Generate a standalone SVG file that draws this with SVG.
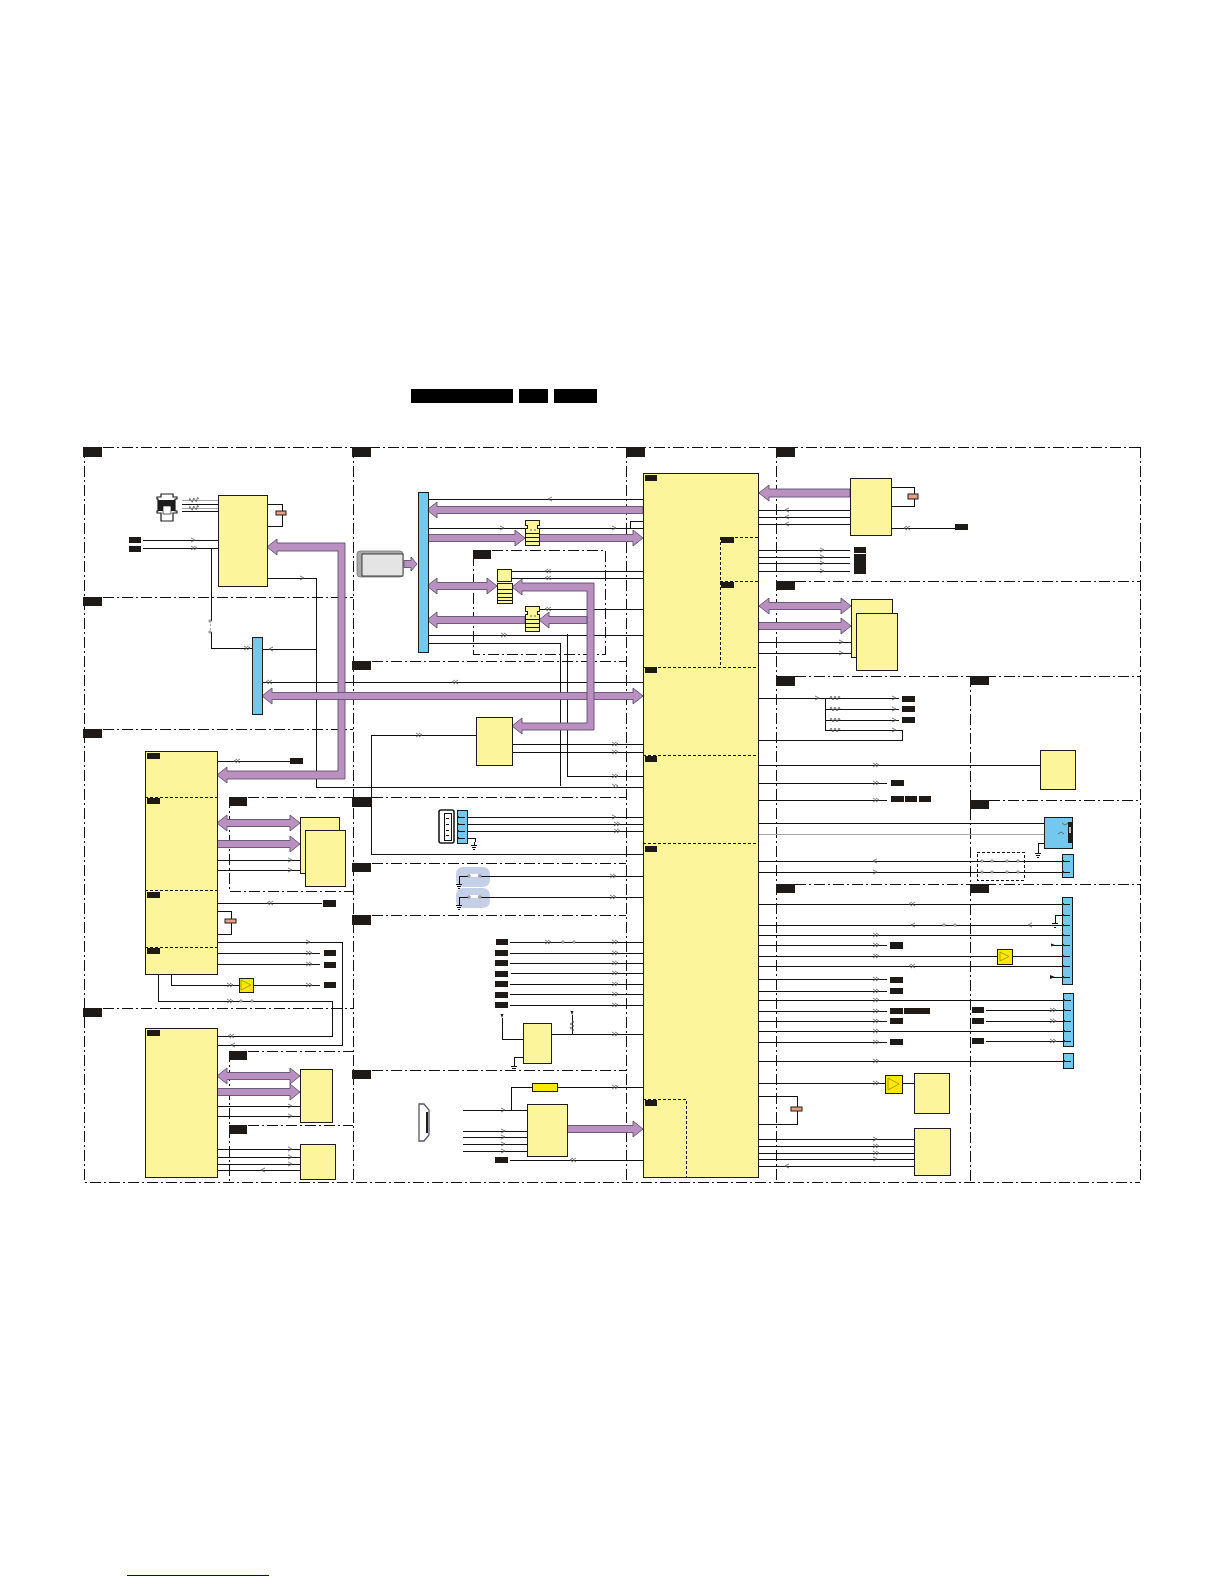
<svg xmlns="http://www.w3.org/2000/svg" width="1224" height="1584" viewBox="0 0 1224 1584">
<style>
.f{fill:none;stroke:#111;stroke-width:1;stroke-dasharray:11 3 2 3;shape-rendering:crispEdges}
.l{fill:none;stroke:#111;stroke-width:1;shape-rendering:crispEdges}
.g{fill:none;stroke:#a8a8a8;stroke-width:1;shape-rendering:crispEdges}
.b{fill:#fdf59c;stroke:#1c1c1c;stroke-width:1;shape-rendering:crispEdges}
.c{fill:#72c8ee;stroke:#1c1c1c;stroke-width:1;shape-rendering:crispEdges}
.t{fill:#1e1a18}
.a{fill:#ba90c0;stroke:#5e5070;stroke-width:.9}
.d{fill:none;stroke:#111;stroke-width:1;stroke-dasharray:3 2;shape-rendering:crispEdges}
.y{fill:#ffe800;stroke:#1c1c1c;stroke-width:1;shape-rendering:crispEdges}
.ch{fill:none;stroke:#555;stroke-width:.8}
.cp{fill:#e8a080;stroke:#1c1c1c;stroke-width:1}
.dot{fill:#ddd;stroke:#666;stroke-width:.7}
</style>
<defs>
<path id="r1" class="ch" d="M-2-2L2 0L-2 2"/>
<path id="l1" class="ch" d="M2-2L-2 0L2 2"/>
<path id="r2" class="ch" d="M-3-2L0 0L-3 2M0-2L3 0L0 2"/>
<path id="l2" class="ch" d="M3-2L0 0L3 2M0-2L-3 0L0 2"/>
<g id="gnd"><path class="l" d="M0 0V3M-3 3H3M-2 5H2M-1 7H1"/></g>
<path id="res" class="ch" d="M-5 0L-4-2L-2 2L0-2L2 2L4-2L5 0"/>
<g id="ic"><path class="b" d="M0 0H14V5H12V8H14V25H0V8H2V5H0Z"/><path class="l" d="M0 13H14M0 17H14M0 21H14"/><circle cx="6" cy="10" r=".7" fill="#333"/><circle cx="10" cy="10" r=".7" fill="#333"/></g>
<g id="pin"><path class="l" d="M-3 0H3"/><path d="M-3-1.2L-5 0L-3 1.2Z" fill="#1c1c1c"/></g>
</defs>
<g id="title"><rect x="411" y="389" width="102" height="14" fill="#000"/><rect x="519" y="389" width="29" height="14" fill="#000"/><rect x="554" y="389" width="43" height="14" fill="#000"/></g>
<path id="footer-link" d="M127 1575H269" stroke="#0000a0" stroke-width="1" fill="none" shape-rendering="crispEdges"/>
<g id="frames">
<path class="f" d="M84 447H1140M84 447V1182H1140M1140 447V1182"/>
<path class="f" d="M353 447V1182M626 447V1182M776 447V1182M970 676V1182"/>
<path class="f" d="M84 597H353M84 729H353M84 1008H353"/>
<path class="f" d="M353 661H626M353 797H626M353 863H626M353 915H626M353 1070H626"/>
<path class="f" d="M776 581H1140M776 676H1140M970 800H1140M776 884H1140"/>
<path class="f" d="M229 797V891H353M229 797H353M229 1051V1182M229 1051H353M229 1125H353"/>
<path class="f" d="M473 550H605V654H473Z"/>
</g>
<g id="connectors">
<path class="l" d="M143 540H218M143 548H218M211 548V621M211 632V648H252"/>
<path class="g" d="M210 624V630" stroke-dasharray="2 2"/>
<path class="l" d="M267 504H282V511M282 515V526H267"/>
<path class="l" d="M182 504H218M182 511H218"/>
<path class="g" d="M182 500H218M182 508H218"/>
<path class="l" d="M267 578H316V787H643M262 649H316"/>
<path class="l" d="M428 499H643M428 528H643M630 528V521H643M512 571H643M512 578H643M539 609H643M428 635H643M428 643H560V786M567 634V776H643M262 682H643M512 744H643M512 752H643M476 735H371V854H643"/>
<path class="l" d="M460 817H643M460 824H643M460 831H643M460 838H475V842M480 876H643M480 897H643"/>
<path class="l" d="M510 942H643M510 953H643M510 963H643M511 973H643M510 984H643M510 994H643M510 1005H643M551 1034H643M572 1015V1034M502 1018V1039H523M523 1057H514V1063M557 1087H643M532 1087H511V1110M463 1110H527M463 1131H527M463 1137H527M463 1144H527M463 1151H527M510 1160H643"/>
<path class="l" d="M217 761H290M217 860H300M217 870H300M217 903H322M217 911H231V919M231 923V934H217M217 942H342V1045H217M217 953H320M217 964H320M171 974V985H239M253 985H320M158 974V1001H332V1036H217M217 1106H300M217 1116H300M217 1149H300M217 1157H300M217 1164H300M217 1170H300"/>
<path class="l" d="M891 487H914V494M914 499V506H891M891 528H955M758 510H850M758 517H850M758 524H850M758 550H850M758 557H850M758 563H850M758 571H850M758 642H851M758 653H851M758 698H899M825 698V730M825 709H899M825 720H899M825 730H902V740H758M758 765H1040M758 783H887M758 800H887"/>
<path class="l" d="M758 823H1044M758 861H1062M758 872H1062M1068 843H1038V850"/>
<path class="g" d="M758 834H1044"/>
<path class="l" d="M758 904H1062M1062 915H1055V920M758 925H1062M758 935H1062M758 945H887M1053 945H1062M758 956H997M1012 956H1062M758 966H1062M758 979H887M1050 977H1062M758 991H887M758 1000H1063M758 1011H887M758 1021H887M758 1031H1063M758 1042H887M986 1010H1063M986 1021H1063M986 1041H1063M758 1061H1063M758 1083H885M902 1083H914M758 1096H797V1107M797 1111V1124H758M758 1139H914M758 1146H914M758 1153H914M758 1159H914M758 1166H914"/>
<path id="bus-1" class="a" d="M267 547L277 539V543H345V779H227V783L217 775L227 767V771H338V551H277V555Z"/>
<path id="bus-2" class="a" d="M262 696L272 688V692.5H633V688L643 696L633 704V699.500H272V704Z"/>
<path class="a" d="M427 510L437 502V506.500H643V513.500H437V518Z"/>
<path class="a" d="M427 534.500H515V530L525 538L515 546V541.500H427Z"/>
<path class="a" d="M539 534.500H633V530L643 538L633 546V541.500H539Z"/>
<path class="a" d="M427 586L437 578V582.500H487V578L497 586L487 594V589.500H437V594Z"/>
<path class="a" d="M512 587L522 579V583H594V730H522V734L512 726L522 718V723H587V591H522V595Z"/>
<path class="a" d="M539 620L549 612V616.500H587V623.500H549V628Z"/>
<path class="a" d="M427 620L437 612V616.500H525V623.500H437V628Z"/>
<path class="a" d="M404 560.500H411V557L417 564L411 571V567.500H404Z"/>
<path class="a" d="M217 823L227 815V819.500H290V815L300 823L290 831V826.500H227V831Z"/>
<path class="a" d="M217 840.500H290V836L300 844L290 852V847.500H217Z"/>
<path class="a" d="M217 1076L227 1068V1072.500H290V1068L300 1076L290 1084V1079.500H227V1084Z"/>
<path class="a" d="M217 1088.500H290V1084L300 1092L290 1100V1095.500H217Z"/>
<path class="a" d="M567 1125.500H633V1121L643 1129L633 1137V1132.500H567Z"/>
<path class="a" d="M759 493L769 485V489H850V497H769V501Z"/>
<path class="a" d="M759 606L769 598V602.500H841V598L851 606L841 614V609.500H769V614Z"/>
<path class="a" d="M758 622.500H841V618L851 626L841 634V629.500H758Z"/>
<use href="#res" transform="translate(194 500) rotate(-8)"/><use href="#res" transform="translate(194 508) rotate(-8)"/>
<use href="#r1" x="193" y="540"/><use href="#r2" x="194" y="548"/><use href="#r2" x="247" y="648"/><use href="#l1" x="271" y="649"/><use href="#l2" x="269" y="682"/><use href="#r1" x="302" y="578"/>
<use href="#l2" x="237" y="761"/><use href="#r1" x="290" y="860"/><use href="#r1" x="290" y="870"/><use href="#l2" x="270" y="903"/><use href="#r1" x="308" y="942"/><use href="#r2" x="309" y="953"/><use href="#r2" x="309" y="964"/><use href="#r2" x="230" y="985"/><use href="#r2" x="309" y="985"/><use href="#r2" x="230" y="1001"/><use href="#l2" x="231" y="1036"/><use href="#l1" x="233" y="1045"/><use href="#r1" x="290" y="1106"/><use href="#r1" x="290" y="1116"/><use href="#r1" x="290" y="1149"/><use href="#r1" x="290" y="1157"/><use href="#r1" x="290" y="1164"/><use href="#l1" x="263" y="1170"/>
<use href="#l1" x="550" y="499"/><use href="#r1" x="502" y="528"/><use href="#r1" x="614" y="528"/><use href="#l2" x="548" y="571"/><use href="#l2" x="548" y="578"/><use href="#l2" x="548" y="609"/><use href="#r2" x="504" y="635"/><use href="#l2" x="455" y="682"/><use href="#r2" x="419" y="735"/><use href="#r2" x="615" y="744"/><use href="#r2" x="615" y="752"/><use href="#r2" x="615" y="776"/><use href="#r2" x="615" y="786"/>
<use href="#r1" x="614" y="817"/><use href="#r2" x="617" y="824"/><use href="#r2" x="617" y="831"/><use href="#r2" x="613" y="876"/><use href="#r2" x="613" y="897"/>
<use href="#r2" x="548" y="942"/><use href="#r2" x="615" y="942"/><use href="#r2" x="615" y="953"/><use href="#r2" x="615" y="963"/><use href="#r2" x="615" y="973"/><use href="#r2" x="615" y="984"/><use href="#r2" x="615" y="994"/><use href="#r2" x="615" y="1005"/><use href="#r2" x="615" y="1034"/><use href="#r2" x="615" y="1087"/><use href="#r1" x="503" y="1110"/><use href="#r1" x="503" y="1131"/><use href="#r1" x="503" y="1137"/><use href="#r1" x="503" y="1144"/><use href="#r1" x="503" y="1151"/><use href="#l2" x="573" y="1160"/>
<use href="#l2" x="907" y="528"/><use href="#l1" x="787" y="510"/><use href="#l1" x="787" y="517"/><use href="#l1" x="787" y="524"/><use href="#r1" x="822" y="550"/><use href="#r1" x="822" y="557"/><use href="#r1" x="822" y="563"/><use href="#r1" x="822" y="571"/><use href="#r1" x="841" y="642"/><use href="#r1" x="841" y="653"/>
<use href="#r1" x="817" y="698"/><use href="#res" x="835" y="698"/><use href="#res" x="835" y="709"/><use href="#res" x="835" y="720"/><use href="#res" x="835" y="730"/><use href="#r1" x="894" y="698"/><use href="#r1" x="894" y="709"/><use href="#r1" x="894" y="720"/><use href="#r1" x="894" y="730"/>
<use href="#r2" x="876" y="765"/><use href="#r2" x="876" y="783"/><use href="#r2" x="876" y="800"/>
<use href="#l1" x="875" y="861"/><use href="#r1" x="875" y="872"/><use href="#l2" x="912" y="904"/><use href="#l1" x="913" y="925"/><use href="#l1" x="1030" y="925"/><use href="#r2" x="876" y="935"/><use href="#r2" x="876" y="945"/><use href="#r2" x="876" y="956"/><use href="#l2" x="912" y="966"/><use href="#r2" x="876" y="979"/><use href="#r2" x="876" y="991"/><use href="#r2" x="876" y="1000"/><use href="#r2" x="876" y="1011"/><use href="#r2" x="876" y="1021"/><use href="#r2" x="876" y="1031"/><use href="#r2" x="876" y="1042"/><use href="#r2" x="1053" y="1010"/><use href="#r2" x="1053" y="1021"/><use href="#r2" x="1053" y="1041"/><use href="#r2" x="876" y="1061"/><use href="#r2" x="876" y="1083"/><use href="#r1" x="875" y="1139"/><use href="#r2" x="876" y="1146"/><use href="#r2" x="876" y="1153"/><use href="#r1" x="875" y="1159"/><use href="#l1" x="787" y="1166"/>
<circle class="dot" cx="241" cy="1001" r="1.2"/><circle class="dot" cx="252" cy="1001" r="1.2"/>
<circle class="dot" cx="563" cy="942" r="1.2"/><circle class="dot" cx="574" cy="942" r="1.2"/>
<circle class="dot" cx="944" cy="925" r="1.2"/><circle class="dot" cx="955" cy="925" r="1.2"/>
<circle class="dot" cx="210" cy="621" r="1.2"/><circle class="dot" cx="210" cy="632" r="1.2"/>
<circle class="dot" cx="982" cy="861" r="1.2"/><circle class="dot" cx="992" cy="861" r="1.2"/><circle class="dot" cx="1007" cy="861" r="1.2"/><circle class="dot" cx="1018" cy="861" r="1.2"/>
<circle class="dot" cx="982" cy="872" r="1.2"/><circle class="dot" cx="992" cy="872" r="1.2"/><circle class="dot" cx="1007" cy="872" r="1.2"/><circle class="dot" cx="1018" cy="872" r="1.2"/>
<path d="M572 1015l-1.500-4h3z" fill="#1c1c1c"/><use href="#res" transform="translate(572 1026) rotate(90)"/>
<path d="M502 1018l-1.500-4h3z" fill="#1c1c1c"/>
<use href="#gnd" x="474" y="842"/><use href="#gnd" x="514" y="1063"/><use href="#gnd" x="1038" y="850"/><use href="#gnd" x="1055" y="920"/>
</g>
<g id="node-power-conn"><path fill="#fff" stroke="#1c1c1c" stroke-width="1.2" d="M161 494H173V497H177V499H175V511H177V513H173V521H161V513H157V511H158V499H157V497H161Z"/><rect x="158" y="500" width="17" height="11" fill="#1c1c1c"/><rect x="163" y="506" width="8" height="8" fill="#fff" stroke="#1c1c1c" stroke-width=".7"/></g>
<g id="node-a"><rect class="b" x="218" y="495" width="49" height="91"/><rect class="cp" x="276" y="511" width="10" height="4"/></g>
<g id="node-a-conn"><rect class="c" x="252" y="637" width="10" height="77"/></g>
<g id="node-left1"><rect class="b" x="145" y="751" width="72" height="223"/><path class="d" d="M145 797H217M145 890H217M145 947H217"/><rect class="t" x="147" y="753" width="13" height="6"/><rect class="t" x="147" y="798" width="13" height="6"/><rect class="t" x="147" y="892" width="13" height="6"/><rect class="t" x="147" y="948" width="13" height="6"/><rect class="cp" x="225" y="919" width="11" height="4"/></g>
<g id="node-left2"><rect class="b" x="145" y="1028" width="72" height="149"/><rect class="t" x="147" y="1030" width="13" height="6"/></g>
<g id="node-stack1"><rect class="b" x="300" y="817" width="39" height="56"/><rect class="b" x="305" y="830" width="40" height="56"/></g>
<g id="node-mem"><rect class="b" x="300" y="1069" width="32" height="53"/></g>
<g id="node-mem2"><rect class="b" x="300" y="1144" width="35" height="35"/></g>
<g id="node-amp1"><rect class="y" x="239" y="978" width="14" height="14"/><path d="M241 980L251 985L241 990Z" fill="none" stroke="#8a8000" stroke-width=".7"/></g>
<g id="node-card"><rect x="357" y="551" width="46" height="26" rx="3" fill="#a8a8a8" stroke="#777" stroke-width=".8"/><rect x="362" y="554" width="41" height="22" fill="#e4e4e4" stroke="#1c1c1c" stroke-width=".8"/></g>
<g id="node-bar"><rect class="c" x="418" y="492" width="10" height="160"/></g>
<g id="node-ic1"><use href="#ic" x="525" y="520"/></g>
<g id="node-ic2"><rect class="b" x="497" y="569" width="14" height="12"/><path class="b" d="M497 583H512V603H497Z"/><path class="l" d="M497 589H512M497 593H512M497 597H512M497 600H512"/></g>
<g id="node-ic3"><use href="#ic" x="525" y="606"/></g>
<g id="node-c1"><rect class="b" x="476" y="717" width="36" height="48"/></g>
<g id="node-usb"><rect x="439" y="810" width="15" height="33" rx="2" fill="#fff" stroke="#1c1c1c" stroke-width="1.6"/><path class="l" d="M444 813H451V840H444ZM446 818H449M446 824H449M446 830H449M446 835H449"/><rect class="c" x="457" y="810" width="10" height="33"/><use href="#pin" x="462" y="817"/><use href="#pin" x="462" y="824"/><use href="#pin" x="462" y="831"/><use href="#pin" x="462" y="838"/></g>
<g id="node-sw1"><rect x="456" y="867" width="34" height="20" rx="7" fill="#c5cfe8"/><path class="l" d="M459 881V876H468M480 876H490M459 881V884"/><rect x="470" y="874" width="8" height="3" fill="#fff"/><circle class="dot" cx="469" cy="876" r="1.200"/><circle class="dot" cx="480" cy="876" r="1.200"/><use href="#gnd" x="459" y="881"/></g>
<g id="node-sw2"><rect x="456" y="888" width="34" height="20" rx="7" fill="#c5cfe8"/><path class="l" d="M459 902V897H468M480 897H490"/><rect x="470" y="895" width="8" height="3" fill="#fff"/><circle class="dot" cx="469" cy="897" r="1.200"/><circle class="dot" cx="480" cy="897" r="1.200"/><use href="#gnd" x="459" y="902"/></g>
<g id="node-reg"><rect class="b" x="523" y="1023" width="28" height="40"/></g>
<g id="node-fuse"><rect class="y" x="532" y="1083" width="25" height="8"/></g>
<g id="node-hdmi-chip"><rect class="b" x="527" y="1104" width="40" height="52"/></g>
<g id="node-micro"><path fill="#fff" stroke="#556" stroke-width="1.3" d="M419 1104H424L429 1110V1135L424 1141H419Z"/><path d="M427 1112V1133" stroke="#1c1c1c" stroke-width="2"/></g>
<g id="node-main"><rect class="b" x="643" y="473" width="115" height="704"/><path class="d" d="M720 537H758M720 537V667M720 581H758M643 667H758M643 755H758M643 843H758M643 1099H686V1177"/>
<rect class="t" x="645" y="475" width="12" height="6"/><rect class="t" x="721" y="537" width="13" height="6"/><rect class="t" x="721" y="582" width="13" height="6"/><rect class="t" x="645" y="667" width="12" height="6"/><rect class="t" x="645" y="756" width="12" height="6"/><rect class="t" x="645" y="846" width="12" height="6"/><rect class="t" x="645" y="1100" width="12" height="6"/><rect class="cp" x="791" y="1107" width="11" height="4"/></g>
<g id="node-r1"><rect class="b" x="850" y="478" width="41" height="57"/><rect class="cp" x="908" y="494" width="10" height="5"/></g>
<g id="node-stack2"><rect class="b" x="851" y="599" width="41" height="58"/><rect class="b" x="856" y="613" width="41" height="57"/></g>
<g id="node-r2"><rect class="b" x="1040" y="750" width="35" height="39"/></g>
<g id="node-sc"><rect class="c" x="1044" y="817" width="28" height="31"/><rect x="1068" y="822" width="4" height="21" fill="#1c1c1c"/><rect x="1069" y="827" width="2" height="6" fill="#bbb"/><path class="ch" d="M1062 823L1065 825L1068 823M1058 834L1061 832L1064 834"/></g>
<g id="node-c3"><rect class="c" x="1062" y="854" width="11" height="23"/><use href="#pin" x="1067" y="861"/><use href="#pin" x="1067" y="872"/></g>
<path id="node-dash" class="d" d="M977 852H1024V880H977Z"/>
<g id="node-c4"><rect class="c" x="1062" y="897" width="10" height="87"/><use href="#pin" x="1067" y="904"/><use href="#pin" x="1067" y="915"/><use href="#pin" x="1067" y="925"/><use href="#pin" x="1067" y="935"/><use href="#pin" x="1067" y="945"/><use href="#pin" x="1067" y="956"/><use href="#pin" x="1067" y="966"/><use href="#pin" x="1067" y="977"/><path d="M1051 943.500L1055 945L1051 946.500ZM1050 975L1055 977L1050 979Z" fill="#1c1c1c"/></g>
<g id="node-c5"><rect class="c" x="1063" y="993" width="10" height="53"/><use href="#pin" x="1068" y="1000"/><use href="#pin" x="1068" y="1010"/><use href="#pin" x="1068" y="1021"/><use href="#pin" x="1068" y="1031"/><use href="#pin" x="1068" y="1041"/></g>
<g id="node-c6"><rect class="c" x="1063" y="1053" width="10" height="15"/><use href="#pin" x="1068" y="1061"/></g>
<g id="node-amp2"><rect class="y" x="997" y="949" width="15" height="15"/><path d="M1000 952L1009 956.500L1000 961Z" fill="none" stroke="#8a8000" stroke-width=".7"/></g>
<g id="node-amp3"><rect class="y" x="885" y="1075" width="17" height="18"/><path d="M888 1078L899 1084L888 1090Z" fill="none" stroke="#8a8000" stroke-width=".7"/></g>
<g id="node-r3"><rect class="b" x="914" y="1073" width="35" height="40"/></g>
<g id="node-r4"><rect class="b" x="914" y="1128" width="36" height="47"/></g>
<g id="tags">
<rect class="t" x="83" y="447" width="19" height="10"/><rect class="t" x="83" y="597" width="19" height="9"/><rect class="t" x="83" y="729" width="19" height="9"/><rect class="t" x="83" y="1008" width="19" height="9"/>
<rect class="t" x="352" y="447" width="19" height="10"/><rect class="t" x="352" y="661" width="19" height="9"/><rect class="t" x="352" y="797" width="19" height="10"/><rect class="t" x="352" y="863" width="19" height="9"/><rect class="t" x="352" y="915" width="19" height="10"/><rect class="t" x="352" y="1070" width="19" height="9"/>
<rect class="t" x="626" y="447" width="19" height="10"/><rect class="t" x="776" y="447" width="19" height="10"/><rect class="t" x="776" y="581" width="19" height="9"/><rect class="t" x="776" y="676" width="19" height="10"/><rect class="t" x="776" y="884" width="19" height="9"/>
<rect class="t" x="970" y="676" width="19" height="9"/><rect class="t" x="970" y="800" width="19" height="9"/><rect class="t" x="970" y="884" width="19" height="9"/>
<rect class="t" x="229" y="797" width="18" height="9"/><rect class="t" x="229" y="1051" width="18" height="9"/><rect class="t" x="229" y="1125" width="18" height="9"/><rect class="t" x="473" y="550" width="18" height="9"/>
<rect class="t" x="129" y="537" width="12" height="6"/><rect class="t" x="129" y="546" width="12" height="6"/><rect class="t" x="290" y="758" width="13" height="6"/><rect class="t" x="323" y="900" width="13" height="7"/><rect class="t" x="324" y="950" width="12" height="6"/><rect class="t" x="324" y="962" width="12" height="6"/><rect class="t" x="324" y="982" width="12" height="6"/>
<rect class="t" x="496" y="939" width="12" height="6"/><rect class="t" x="495" y="950" width="13" height="6"/><rect class="t" x="495" y="960" width="13" height="6"/><rect class="t" x="495" y="971" width="13" height="6"/><rect class="t" x="495" y="981" width="13" height="6"/><rect class="t" x="495" y="992" width="13" height="6"/><rect class="t" x="495" y="1002" width="13" height="6"/><rect class="t" x="495" y="1157" width="13" height="6"/>
<rect class="t" x="955" y="524" width="13" height="6"/><rect class="t" x="854" y="547" width="12" height="6"/><rect class="t" x="854" y="554" width="12" height="20"/>
<rect class="t" x="902" y="696" width="13" height="6"/><rect class="t" x="902" y="706" width="13" height="6"/><rect class="t" x="902" y="717" width="13" height="6"/><rect class="t" x="891" y="780" width="13" height="6"/><rect class="t" x="891" y="796" width="13" height="6"/><rect class="t" x="905" y="796" width="12" height="6"/><rect class="t" x="919" y="796" width="12" height="6"/>
<rect class="t" x="890" y="942" width="13" height="7"/><rect class="t" x="890" y="977" width="13" height="6"/><rect class="t" x="890" y="988" width="13" height="6"/><rect class="t" x="890" y="1008" width="13" height="6"/><rect class="t" x="904" y="1008" width="26" height="6"/><rect class="t" x="890" y="1018" width="13" height="6"/><rect class="t" x="890" y="1039" width="13" height="6"/>
<rect class="t" x="972" y="1007" width="12" height="6"/><rect class="t" x="972" y="1018" width="12" height="6"/><rect class="t" x="972" y="1038" width="12" height="6"/>
</g>
</svg>
